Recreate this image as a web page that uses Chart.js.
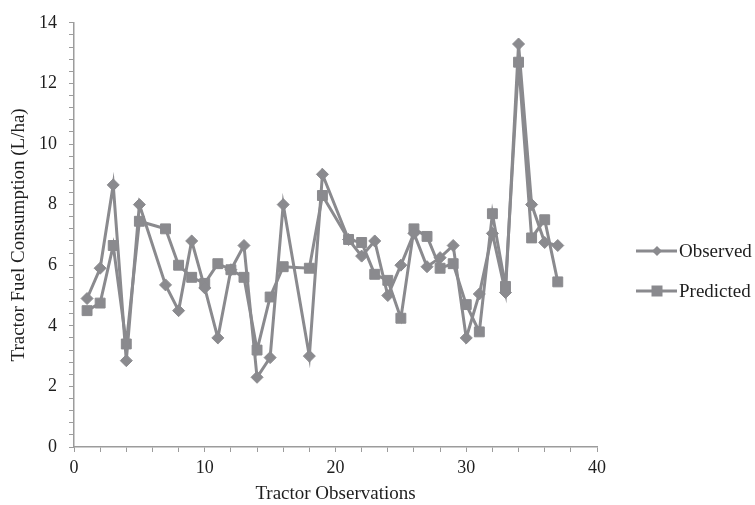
<!DOCTYPE html>
<html>
<head>
<meta charset="utf-8">
<script src="https://cdn.jsdelivr.net/npm/chart.js@4"></script>
<style>
  html, body { margin: 0; padding: 0; background: #fff; }
  #wrap { width: 755px; height: 505px; }
</style>
</head>
<body>
<div id="wrap"><canvas id="fuelChart"></canvas></div>
<script>
// Tractor fuel consumption, observed vs predicted
const observations = [1, 2, 3, 4, 5, 7, 8, 9, 10, 11, 12, 13, 14, 15, 16, 18, 19,
  21, 22, 23, 24, 25, 26, 27, 28, 29, 30, 31, 32, 33, 34, 35, 36, 37];
const observed = [4.9, 5.9, 8.65, 2.85, 8.0, 5.35, 4.5, 6.8, 5.25, 3.6, 5.85, 6.65, 2.3, 2.95, 8.0, 3.0, 9.0,
  6.85, 6.3, 6.8, 5.0, 6.0, 7.05, 5.95, 6.25, 6.65, 3.6, 5.05, 7.05, 5.1, 13.3, 8.0, 6.75, 6.65];
const predicted = [4.5, 4.75, 6.65, 3.4, 7.45, 7.2, 6.0, 5.6, 5.4, 6.05, 5.85, 5.6, 3.2, 4.95, 5.95, 5.9, 8.3,
  6.85, 6.75, 5.7, 5.5, 4.25, 7.2, 6.95, 5.9, 6.05, 4.7, 3.8, 7.7, 5.3, 12.7, 6.9, 7.5, 5.45];

const xTickLabels = [0, 10, 20, 30, 40];
const yTickLabels = [0, 2, 4, 6, 8, 10, 12, 14];

const serif = '"Liberation Serif", "Times New Roman", serif';
const gray = 'rgb(138,138,142)';
const axisGray = '#9c9c9c';
const textColor = '#1e1e1e';

function toPoints(ys) {
  return observations.map((x, i) => ({ x: x, y: ys[i] }));
}

function isLabel(list, v) {
  return list.some(t => Math.abs(t - v) < 1e-6);
}

// legend on the right: line with marker, then the name
const sideLegend = {
  id: 'sideLegend',
  afterDraw(chart) {
    const ctx = chart.ctx;
    chart.data.datasets.forEach((ds, i) => {
      const y = 251 + i * 40;
      ctx.save();
      ctx.strokeStyle = ds.borderColor;
      ctx.lineWidth = 3;
      ctx.beginPath();
      ctx.moveTo(636, y);
      ctx.lineTo(677, y);
      ctx.stroke();
      ctx.fillStyle = ds.pointBackgroundColor;
      ctx.beginPath();
      if (ds.pointStyle === 'rectRot') {
        ctx.moveTo(657, y - 5);
        ctx.lineTo(662, y);
        ctx.lineTo(657, y + 5);
        ctx.lineTo(652, y);
      } else {
        ctx.rect(651.5, y - 5.5, 11, 11);
      }
      ctx.closePath();
      ctx.fill();
      ctx.fillStyle = textColor;
      ctx.font = '19px ' + serif;
      ctx.textBaseline = 'middle';
      ctx.fillText(ds.label, 679, y + 1);
      ctx.restore();
    });
  }
};

new Chart(document.getElementById('fuelChart'), {
  type: 'scatter',
  data: {
    datasets: [{
      label: 'Observed',
      data: toPoints(observed),
      showLine: true,
      borderColor: gray,
      borderWidth: 3,
      pointStyle: 'rectRot',
      pointRadius: 6,
      pointBorderWidth: 1,
      pointBackgroundColor: gray,
      pointBorderColor: gray
    }, {
      label: 'Predicted',
      data: toPoints(predicted),
      showLine: true,
      borderColor: gray,
      borderWidth: 3,
      pointStyle: 'rect',
      pointRadius: 7,
      pointBorderWidth: 1,
      pointBackgroundColor: gray,
      pointBorderColor: gray
    }]
  },
  options: {
    responsive: true,
    maintainAspectRatio: false,
    animation: false,
    layout: { padding: { top: 21, right: 158, bottom: 0, left: 0 } },
    plugins: {
      legend: { display: false },
      tooltip: { enabled: false }
    },
    scales: {
      x: {
        type: 'linear',
        min: 0,
        max: 40,
        afterFit(scale) { scale.height = 58; },
        border: { color: axisGray, width: 1.5 },
        grid: { drawOnChartArea: false, tickLength: 5, tickColor: axisGray },
        ticks: {
          stepSize: 2,
          autoSkip: false,
          maxRotation: 0,
          padding: 5,
          color: textColor,
          font: { family: serif, size: 18 },
          callback: v => isLabel(xTickLabels, v) ? String(v) : ''
        },
        title: {
          display: true,
          text: 'Tractor Observations',
          color: textColor,
          font: { family: serif, size: 19 },
          padding: { top: 0, bottom: 0 }
        }
      },
      y: {
        min: 0,
        max: 14,
        afterFit(scale) { scale.width = 74; },
        border: { color: axisGray, width: 1.5 },
        grid: { drawOnChartArea: false, tickLength: 5, tickColor: axisGray },
        ticks: {
          stepSize: 0.4,
          autoSkip: false,
          padding: 12,
          color: textColor,
          font: { family: serif, size: 18 },
          callback: v => isLabel(yTickLabels, v) ? String(Math.round(v)) : ''
        },
        title: {
          display: true,
          text: 'Tractor Fuel Consumption (L/ha)',
          color: textColor,
          font: { family: serif, size: 19 },
          padding: { top: 8, bottom: 0 }
        }
      }
    }
  },
  plugins: [sideLegend]
});
</script>
</body>
</html>
